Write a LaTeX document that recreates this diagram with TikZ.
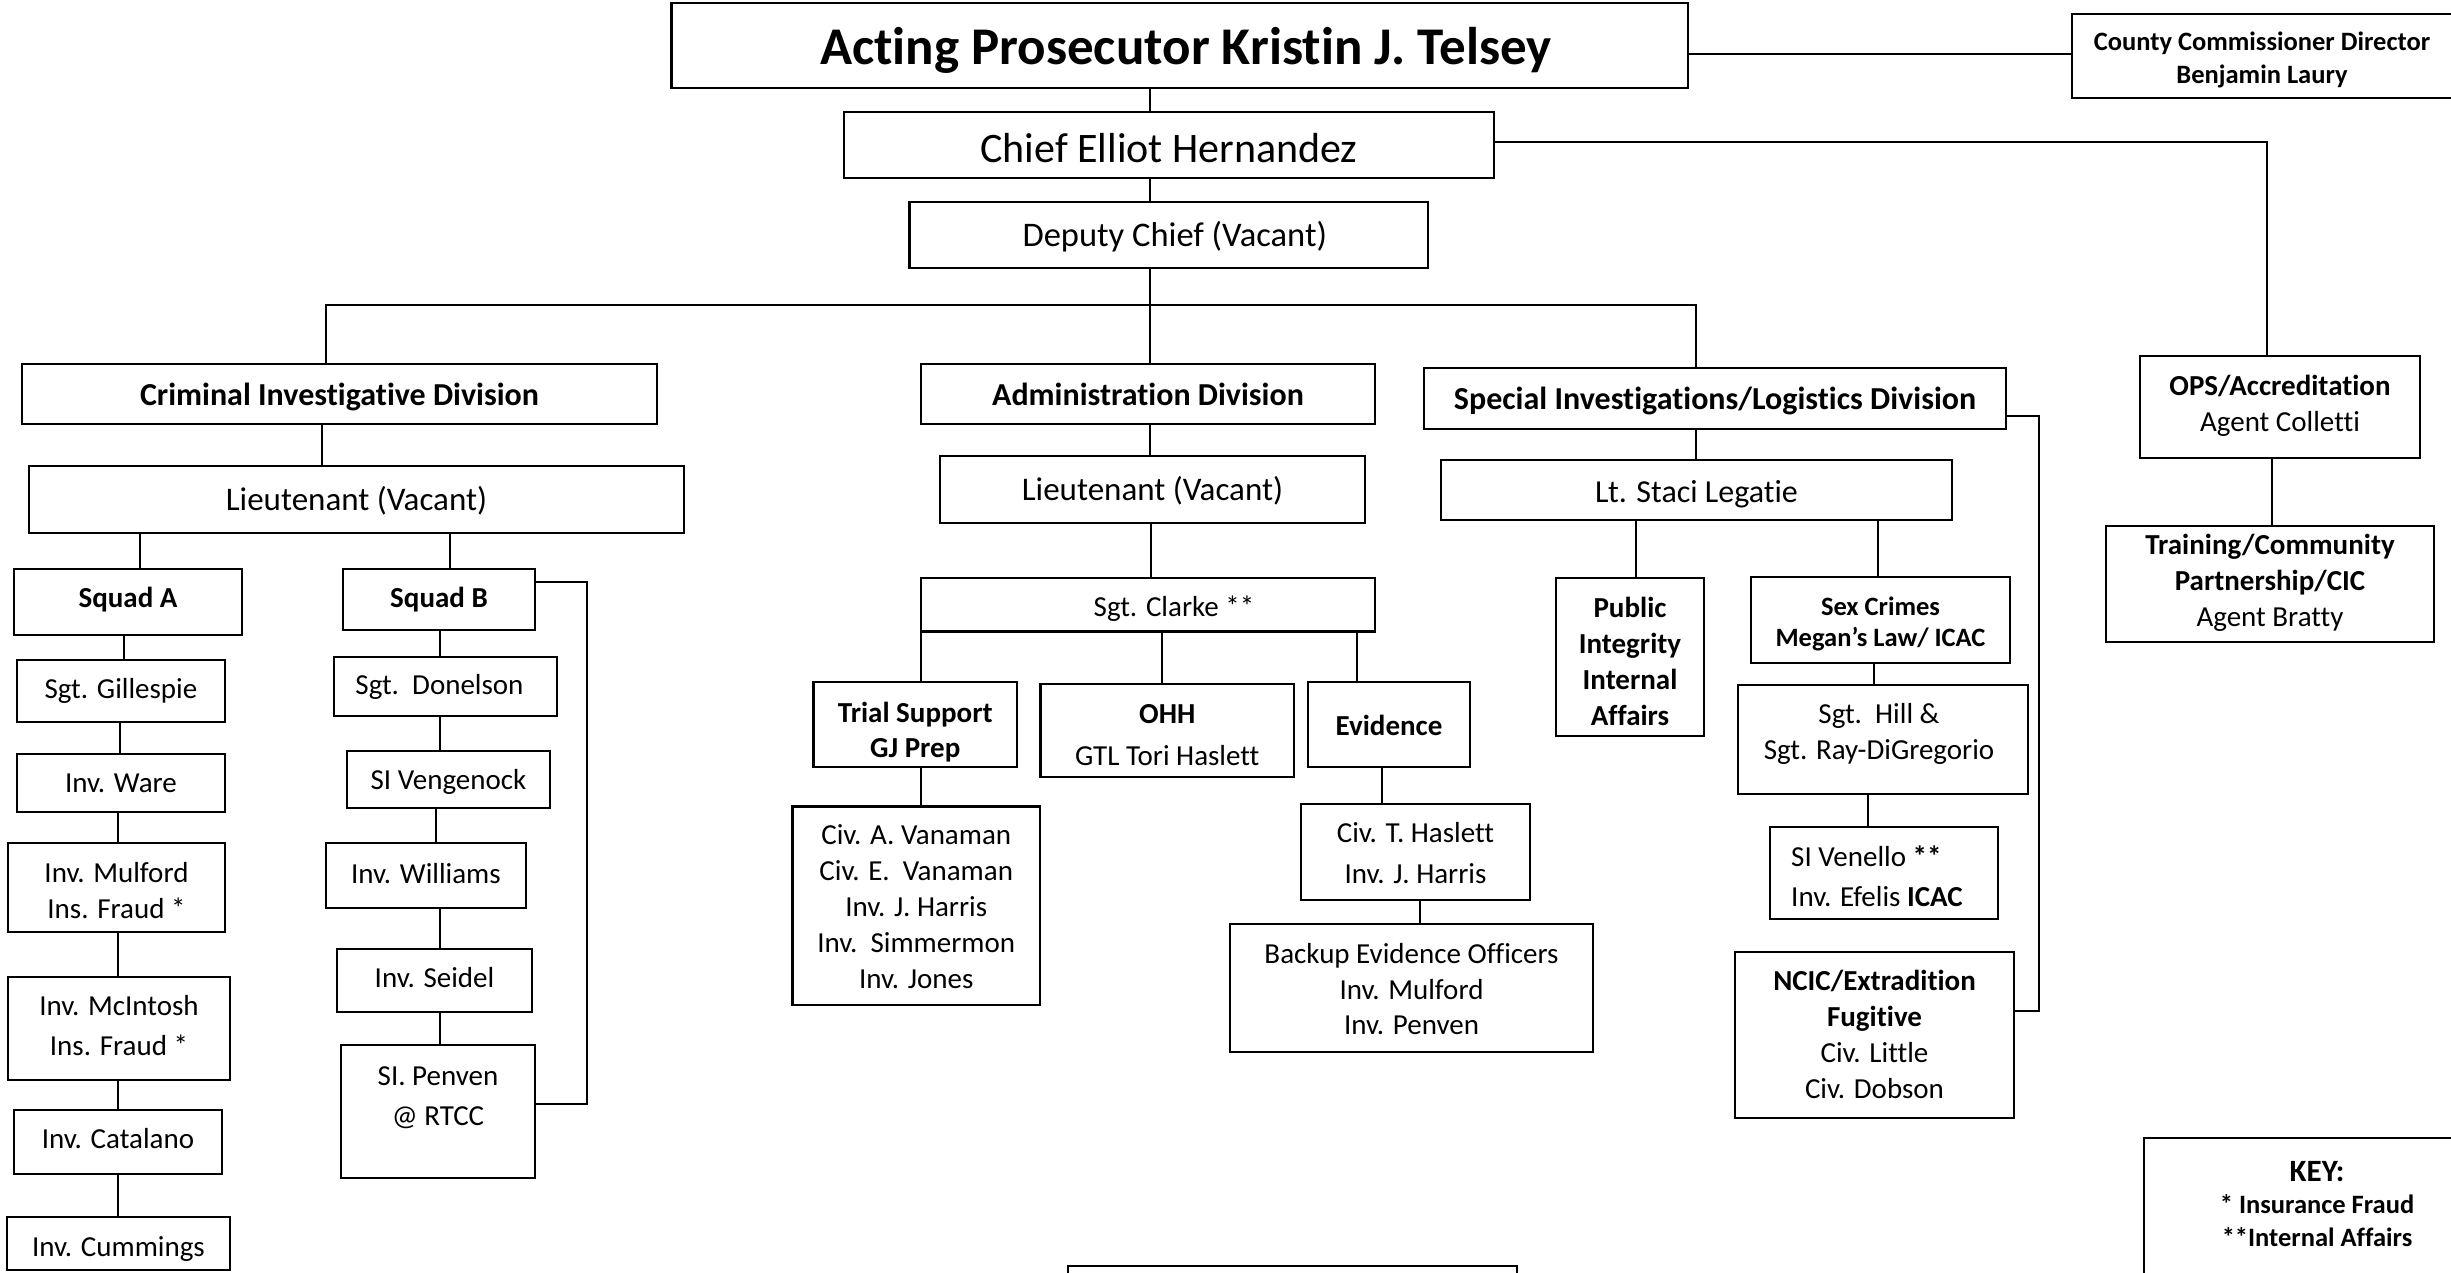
\documentclass[tikz,border=0pt]{standalone}
\usepackage{fontspec}
\setmainfont[Ligatures={TeX,NoCommon}]{Carlito}
\newcommand\fs[2]{\fontsize{#1}{#2}\selectfont}
\tikzset{
  box/.style={draw, line width=2.4pt, inner sep=0pt},
  txt/.style={inner sep=0pt, align=center, font=\fs{29}{36}},
  ln/.style={line width=1.8pt}
}
% \obox[text opts]{name}{x1}{y1}{x2}{y2}{dy}{text}
\newcommand\obox[8][]{%
  \node[box,minimum width={(#5)-(#3)},minimum height={(#6)-(#4)}] (#2) at ({((#3)+(#5))/2},{((#4)+(#6))/2}) {};
  \node[txt,#1] (#2-t) at ({((#3)+(#5))/2},{((#4)+(#6))/2+(#7)}) {\strut#8\strut};}
\begin{document}
\begin{tikzpicture}[x=1pt,y=-1pt]
\fill[white] (0,0) rectangle (2451,1272);
\useasboundingbox (0,0) rectangle (2451,1272);

% top
\obox[font=\bfseries\fs{53}{62},xshift=6]{acting}{671.5}{3}{1688}{88}{7}{Acting Prosecutor Kristin J. Telsey}
\obox[font=\bfseries\fs{26.5}{33}]{county}{2072}{14}{2452}{98}{4.4}{County Commissioner Director\\Benjamin Laury}
\obox[font=\fs{42}{50}]{chief}{844}{112}{1494}{178}{7.5}{Chief Elliot Hernandez}
\obox[font=\fs{34.5}{41},xshift=6]{deputy}{909.6}{202}{1428}{268}{3.6}{Deputy Chief (Vacant)}

% divisions
\obox[font=\bfseries\fs{32}{38}]{cid}{22}{364}{657}{424}{3.7}{Criminal Investigative Division}
\obox[font=\bfseries\fs{32}{38}]{admin}{921}{364}{1375}{424}{4.2}{Administration Division}
\obox[font=\bfseries\fs{32}{38}]{sil}{1424}{368}{2006}{429}{3.2}{Special Investigations/Logistics Division}
\obox[font=\fs{33}{40}]{cidlt}{29}{466}{684}{533}{3.1}{Lieutenant (Vacant)}
\obox[font=\fs{33}{40}]{adminlt}{940}{456}{1365}{523}{3.1}{Lieutenant (Vacant)}
\obox[font=\fs{32}{38}]{staci}{1441}{460}{1952}{520}{4.5}{Lt. Staci Legatie}
\obox{ops}{2140}{356}{2420}{458}{-1}{\textbf{OPS/Accreditation}\\Agent Colletti}
\obox{training}{2106}{526}{2434}{642}{-0.5}{\textbf{Training/Community}\\\textbf{Partnership/CIC}\\Agent Bratty}

% squad A
\obox[font=\bfseries\fs{29}{36}]{squadA}{14}{569}{242}{635}{-1.6}{Squad A}
\obox{gillespie}{17}{660}{225}{722}{0.6}{Sgt. Gillespie}
\obox{ware}{17}{754}{225}{812}{2.5}{Inv. Ware}
\obox{mulford}{8}{843}{225}{932}{5.5}{Inv. Mulford\\Ins. Fraud *}
\obox[font=\fs{29}{40}]{mcintosh}{8}{977}{230}{1080}{-1}{Inv. McIntosh\\Ins. Fraud *}
\obox{catalano}{14}{1110}{222}{1174}{-1}{Inv. Catalano}
\obox{cummings}{7}{1217}{230}{1270}{5.5}{Inv. Cummings}

% squad B
\obox[font=\bfseries\fs{29}{36}]{squadB}{343}{569}{535}{630}{1}{Squad B}
\obox[xshift=-6]{donelson}{334}{657}{557}{716}{1}{Sgt.\ \ Donelson}
\obox{vengenock}{347}{751}{550}{808}{2.5}{SI Vengenock}
\obox{williams}{326}{843}{526}{908}{0.5}{Inv. Williams}
\obox{seidel}{337}{949}{532}{1012}{0}{Inv. Seidel}
\obox[font=\fs{29}{40}]{penven}{341}{1045}{535}{1178}{-14}{SI. Penven\\@ RTCC}

% administration
\obox[xshift=26]{clarke}{921}{578}{1375}{631.5}{4.6}{Sgt. Clarke **}
\obox[font=\fs{29}{35}]{trial}{813.5}{682}{1017}{767}{8}{\textbf{Trial Support}\\\textbf{GJ Prep}}
\obox[font=\fs{29}{41.7}]{ohh}{1040.5}{684}{1294}{777}{5.5}{\textbf{OHH}\\GTL Tori Haslett}
\obox[font=\bfseries\fs{29}{36}]{evidence}{1308}{682}{1470}{767}{3.5}{Evidence}
\obox{civlist}{792.5}{806.6}{1040}{1005}{3}{Civ. A. Vanaman\\Civ. E.\ \ Vanaman\\Inv. J. Harris\\Inv.\ \ Simmermon\\Inv. Jones}
\obox[font=\fs{29}{41}]{haslett}{1301}{804}{1530}{900}{2.5}{Civ. T. Haslett\\Inv. J. Harris}
\obox[font=\fs{29}{35.5}]{backup}{1230}{924}{1593}{1052}{4}{Backup Evidence Officers\\Inv. Mulford\\Inv. Penven}

% special investigations
\obox[font=\bfseries\fs{29}{36}]{public}{1556}{578}{1704}{736}{7}{Public\\Integrity\\Internal\\Affairs}
\obox[font=\bfseries\fs{26.5}{31}]{sexcrimes}{1751}{577}{2010}{663}{4.3}{Sex Crimes\\Megan’s Law/ ICAC}
\obox[font=\fs{29}{36.5},xshift=-4]{hill}{1738}{685}{2028}{794}{-5.5}{Sgt.\ \ Hill \&\\Sgt. Ray-DiGregorio}
\obox[font=\fs{29}{40.5},anchor=west,align=left,xshift=-93]{venello}{1770}{827}{1998}{919}{5.3}{SI Venello \textbf{{*}{*}}\\Inv. Efelis \textbf{ICAC}}
\obox{ncic}{1735}{952}{2014}{1118}{2.5}{\textbf{NCIC/Extradition}\\\textbf{Fugitive}\\Civ. Little\\Civ. Dobson}

% key and blank box
\obox[font=\bfseries\fs{26.5}{32.5}]{key}{2144}{1138}{2490}{1300}{-12}{{\fontsize{31}{32.5}\selectfont KEY:}\\{*} Insurance Fraud\\{*}{*}Internal Affairs}
\node[box,minimum width=449,minimum height=60] (blank) at (1292.5,1296) {};

% connectors
\draw[ln] (acting.south -| 1150,0) -- (chief.north -| 1150,0);
\draw[ln] (acting.east |- 0,54) -- (county.west |- 0,54);
\draw[ln] (chief.south -| 1150,0) -- (deputy.north -| 1150,0);
\draw[ln] (chief.east |- 0,142) -| (ops.north -| 2267,0);
\coordinate (bus) at (1150,305);
\draw[ln] (deputy.south -| bus) -- (admin.north -| bus);
\draw[ln] (cid.north -| 326,0) |- (bus) -| (sil.north -| 1696,0);

\draw[ln] (cid.south -| 322,0) -- (cidlt.north -| 322,0);
\draw[ln] (cidlt.south -| 140,0) -- (squadA.north -| 140,0);
\draw[ln] (cidlt.south -| 450,0) -- (squadB.north -| 450,0);
\draw[ln] (squadA.south -| 124,0) -- (gillespie.north -| 124,0);
\draw[ln] (gillespie.south -| 120,0) -- (ware.north -| 120,0);
\draw[ln] (ware.south -| 118,0) -- (mulford.north -| 118,0);
\draw[ln] (mulford.south -| 118,0) -- (mcintosh.north -| 118,0);
\draw[ln] (mcintosh.south -| 118,0) -- (catalano.north -| 118,0);
\draw[ln] (catalano.south -| 118,0) -- (cummings.north -| 118,0);

\draw[ln] (squadB.south -| 440,0) -- (donelson.north -| 440,0);
\draw[ln] (donelson.south -| 440,0) -- (vengenock.north -| 440,0);
\draw[ln] (vengenock.south -| 436,0) -- (williams.north -| 436,0);
\draw[ln] (williams.south -| 440,0) -- (seidel.north -| 440,0);
\draw[ln] (seidel.south -| 440,0) -- (penven.north -| 440,0);
\draw[ln] (squadB.east |- 0,582) -- ++(51,0) |- (penven.east |- 0,1104);

\draw[ln] (admin.south -| 1150,0) -- (adminlt.north -| 1150,0);
\draw[ln] (adminlt.south -| 1151,0) -- (clarke.north -| 1151,0);
\draw[ln] (clarke.south -| 921,0) -- (trial.north -| 921,0);
\draw[ln] (clarke.south -| 1162,0) -- (ohh.north -| 1162,0);
\draw[ln] (clarke.south -| 1357,0) -- (evidence.north -| 1357,0);
\draw[ln] (trial.south -| 921,0) -- (civlist.north -| 921,0);
\draw[ln] (evidence.south -| 1382,0) -- (haslett.north -| 1382,0);
\draw[ln] (haslett.south -| 1420,0) -- (backup.north -| 1420,0);

\draw[ln] (sil.south -| 1696,0) -- (staci.north -| 1696,0);
\draw[ln] (staci.south -| 1636,0) -- (public.north -| 1636,0);
\draw[ln] (staci.south -| 1878,0) -- (sexcrimes.north -| 1878,0);
\draw[ln] (sexcrimes.south -| 1874,0) -- (hill.north -| 1874,0);
\draw[ln] (hill.south -| 1868,0) -- (venello.north -| 1868,0);
\draw[ln] (sil.east |- 0,416) -- ++(32,0) |- (ncic.east |- 0,1011);
\draw[ln] (ops.south -| 2272,0) -- (training.north -| 2272,0);
\end{tikzpicture}
\end{document}
